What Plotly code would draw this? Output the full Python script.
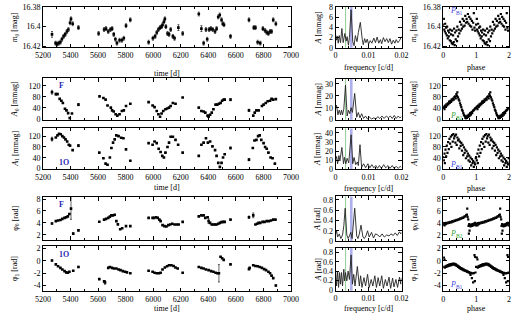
import plotly.graph_objects as go

# ---------------- data ----------------
t_m0 = [5266,5292,5303,5315,5327,5338,5350,5362,5374,5385,5397,5404,5416,5458,
        5604,5644,5658,5674,5690,5702,5714,5726,5737,5756,5773,5787,5803,5834,
        5967,5998,6014,6026,6038,6050,6061,6068,6078,6085,6092,6104,6115,6127,6143,6155,6183,6214,
        6331,6350,6366,6383,6392,6406,6418,6432,6449,6460,6472,6483,6496,6505,6514,6561,
        6695,6730,6742,6758,6777,6796,6812,6824,6836,6848,6859,6871,6890]
m0 = [16.408,16.417,16.418,16.417,16.416,16.413,16.410,16.408,16.405,16.403,16.396,16.392,16.397,16.401,
      16.407,16.403,16.402,16.405,16.403,16.402,16.408,16.413,16.417,16.414,16.414,16.412,16.399,16.393,
      16.416,16.412,16.410,16.406,16.403,16.401,16.400,16.398,16.395,16.392,16.400,16.407,16.408,16.403,16.410,16.412,16.401,16.407,
      16.387,16.402,16.417,16.403,16.413,16.403,16.402,16.403,16.405,16.402,16.390,16.388,16.393,16.397,16.398,16.410,
      16.393,16.401,16.401,16.416,16.417,16.402,16.404,16.406,16.407,16.405,16.405,16.393,16.397]
m0_err = [0.003,0.002,0.002,0.002,0.002,0.002,0.002,0.002,0.002,0.002,0.002,0.002,0.002,0.002,
          0.002,0.002,0.002,0.002,0.002,0.002,0.002,0.002,0.002,0.002,0.002,0.002,0.002,0.002,
          0.002,0.002,0.002,0.002,0.002,0.002,0.002,0.002,0.002,0.002,0.002,0.002,0.002,0.002,0.002,0.002,0.003,0.002,
          0.002,0.003,0.002,0.002,0.002,0.002,0.002,0.002,0.002,0.002,0.002,0.002,0.002,0.002,0.002,0.002,
          0.002,0.002,0.002,0.002,0.002,0.002,0.002,0.002,0.002,0.002,0.002,0.002,0.002]

t_A0 = [5266,5294,5306,5322,5334,5345,5360,5371,5383,5395,5411,5458,
        5611,5639,5655,5669,5693,5702,5714,5728,5740,5756,5773,5787,5803,5834,
        5967,5996,6010,6026,6038,6050,6061,6073,6089,6101,6115,6127,6143,6162,6214,
        6331,6350,6366,6378,6395,6402,6413,6425,6437,6453,6465,6477,6489,6500,6512,6519,6561,
        6695,6726,6737,6749,6765,6789,6801,6817,6831,6848,6859,6871,6890]
A0 = [97,90,90,73,66,58,37,31,21,3,20,52,
      82,76,70,49,41,31,27,17,12,17,29,31,47,55,
      61,49,43,29,17,8,20,29,35,38,41,47,58,55,78,
      41,29,27,23,12,8,15,23,35,52,52,55,58,66,70,70,70,
      31,12,23,31,31,47,52,58,64,66,73,70,72]
A0_err = [7,3,0,0,0,0,0,0,0,0,0,4,
          0,0,0,0,0,0,0,0,0,0,0,0,0,0,
          0,0,0,0,0,0,0,0,0,0,0,0,0,0,0,
          0,0,0,0,0,0,0,0,0,0,0,0,0,0,0,0,4,
          4,0,0,0,0,0,0,0,0,0,0,0,0]

t_A1 = [5266,5294,5306,5317,5329,5341,5353,5364,5376,5388,5397,5416,5458,
        5609,5639,5655,5669,5686,5697,5709,5721,5733,5749,5768,5784,5803,5834,
        5967,5996,6010,6026,6040,6054,6066,6078,6089,6104,6115,6127,6143,6162,6181,6214,
        6331,6350,6366,6383,6397,6413,6430,6449,6460,6472,6484,6496,6507,6519,6561,
        6695,6723,6735,6749,6761,6773,6784,6801,6812,6824,6836,6852,6866,6883]
A1 = [109,115,123,129,127,120,115,108,100,88,85,68,85,
      59,38,18,14,41,76,96,108,123,120,114,112,71,29,
      94,88,100,94,73,61,47,41,59,80,96,118,118,106,88,59,
      47,88,96,112,96,100,82,68,47,21,6,21,41,53,76,
      33,76,104,106,120,123,106,94,80,73,59,41,38,18]
A1_err = [7,0,0,0,0,0,0,0,0,0,0,0,4,
          0,0,0,0,0,0,0,0,0,0,0,0,0,0,
          0,0,0,0,0,0,0,0,0,0,0,0,0,0,0,0,
          0,0,0,0,0,0,0,0,0,0,0,0,0,0,4,
          4,0,0,0,0,0,0,0,0,0,0,0,0,0]

t_p0 = [5266,5294,5310,5327,5341,5357,5369,5381,5392,5404,5420,5458,
        5609,5644,5658,5674,5686,5697,5709,5721,5733,5744,5761,5775,5803,5834,
        5967,5996,6007,6021,6033,6045,6054,6068,6082,6096,6110,6124,6138,6155,6171,6185,6214,
        6331,6350,6366,6378,6395,6402,6413,6425,6437,6449,6460,6472,6484,6496,6507,6519,6561,
        6695,6726,6742,6754,6765,6777,6794,6808,6824,6840,6855,6871,6887]
phi0 = [3.9,4.3,4.4,4.5,4.67,4.84,4.95,5.1,5.5,6.4,2.2,2.76,
        4.2,4.55,4.67,4.84,5.05,5.27,5.27,5.38,4.3,3.75,2.93,3.1,3.47,3.47,
        4.84,4.84,4.84,4.95,4.84,4.56,4.3,3.63,3.47,3.4,3.63,3.74,3.85,3.74,3.74,3.74,4.18,
        5.1,5.27,5.27,4.84,4.95,4.3,4.0,3.74,3.74,3.74,3.74,3.85,4.0,4.13,4.18,4.18,4.56,
        4.95,5.27,3.74,3.85,4.0,4.0,4.18,4.18,4.3,4.3,4.4,4.56,4.56]
phi0_err = [0.1,0,0,0,0,0,0,0,0,1.8,0.15,0.1,
            0,0,0,0,0,0,0,0,0,0,0,0,0,0,
            0,0,0,0,0,0,0,0,0,0,0,0,0,0,0,0,0,
            0,0,0,0,0,0.4,0,0,0,0,0,0,0,0,0,0,0,
            0.2,0.4,0,0,0,0,0,0,0,0,0,0,0]

t_p1 = [5266,5294,5310,5327,5341,5357,5369,5381,5392,5420,5458,
        5609,5644,5651,5674,5686,5702,5716,5733,5749,5763,5780,5796,5810,5834,
        5967,5996,6010,6026,6043,6054,6068,6085,6101,6115,6132,6148,6162,6178,6214,
        6331,6350,6366,6383,6402,6420,6437,6453,6467,6477,6489,6500,6512,6561,
        6695,6700,6726,6742,6758,6773,6789,6805,6819,6836,6848,6859,6871,6890]
phi1 = [0.03,-0.59,-0.9,-1.16,-1.41,-1.67,-1.88,-1.93,-1.78,-1.62,-1.0,
        -2.97,-3.33,-3.5,-1.16,-1.0,-1.16,-1.26,-1.26,-1.41,-1.52,-1.67,-1.78,-1.88,-2.03,
        -1.62,-1.78,-1.93,-2.03,-2.03,-1.93,-1.41,-1.1,-0.9,-0.74,-0.74,-0.84,-1.1,-1.26,-1.93,
        -1.0,-1.16,-1.26,-1.41,-1.52,-1.67,-1.78,-1.93,-2.03,-2.03,0.65,0.4,0.14,-0.59,
        -1.36,-1.15,-0.74,-0.84,-0.9,-1.0,-1.16,-1.36,-1.52,-1.78,-2.03,-2.4,-2.81,-4.0]
phi1_err = [0.1,0,0,0,0,0,0,0,0,0,0.1,
            0,0,0.3,0,0,0,0,0,0,0,0,0,0,0,
            0,0,0,0,0,0,0,0,0,0,0,0,0,0,0,
            0,0,0,0,0,0,0,0,0,1.4,0,0,0,0,
            0,0,0,0,0,0,0,0,0,0,0,0,0,0.1]

# amplitude spectra (frequency in c/d)
f_s1 = [0,0.0003,0.0005,0.0008,0.0011,0.0015,0.0019,0.0023,0.0028,0.0032,0.0035,0.0039,0.0042,0.0047,
        0.0052,0.0056,0.006,0.0065,0.0069,0.0075,0.0081,0.0084,0.0088,0.0092,0.0096,0.01,0.0105,0.011,
        0.0116,0.0121,0.0126,0.0131,0.0136,0.0140,0.0145,0.0150,0.0155,0.0160,0.0165,0.0170,0.0175,
        0.0180,0.0184,0.0189,0.0194,0.02]
s1 = [2.6,1.5,2.3,0.9,2.4,1.0,3.8,1.0,2.8,1.3,2.2,0.5,2.0,7.5,
      1.2,0.4,2.4,1.2,3.0,5.0,1.6,0.6,1.8,1.0,1.7,0.7,1.4,0.9,
      1.9,1.0,2.1,0.9,1.6,0.8,2.0,1.2,1.8,1.0,1.8,0.7,1.5,
      0.9,1.6,1.0,1.4,2.2]

f_s2 = [0,0.0003,0.0007,0.0011,0.0015,0.0018,0.0021,0.0025,0.003,0.0035,0.0039,0.0043,0.0047,0.0051,
        0.0058,0.0064,0.0069,0.0074,0.0079,0.0085,0.0091,0.0097,0.0103,0.0109,0.0116,0.0122,0.0128,
        0.0134,0.0141,0.0147,0.0154,0.016,0.0166,0.0172,0.0178,0.0184,0.019,0.0195,0.02]
s2 = [10,12,4,8,4,8,4,9,29,3,8,5,10,6,
      22,2,6,1.5,5,1,3,0.5,2,0.5,1.5,0.5,2.5,
      1,3,1,3,1.5,3,1,3.5,1,3,1.5,2.5]

f_s3 = [0,0.0003,0.0006,0.001,0.0013,0.0019,0.0024,0.0027,0.0031,0.0035,0.004,0.0047,0.0052,0.0056,
        0.0061,0.0066,0.0069,0.0074,0.0079,0.0085,0.0091,0.0098,0.0104,0.011,0.0116,0.0122,0.0127,
        0.0133,0.0139,0.0146,0.0152,0.0159,0.0165,0.0172,0.0177,0.0184,0.019,0.0196,0.02]
s3 = [10,14,6,15,9,24,6,13,6,12,7,38,6,13,
      5,8,4,27,2,6,1.5,6,1.5,5,1.5,4,1,
      4,1,5,1.5,4,1,4,1,3,1,3,2]

f_s4 = [0,0.0003,0.0006,0.0011,0.0016,0.0021,0.0025,0.0029,0.0034,0.0038,0.0042,0.0046,0.005,0.0053,
        0.0058,0.0064,0.0068,0.0072,0.0077,0.0083,0.0087,0.0092,0.0097,0.0102,0.0109,0.0115,0.0121,
        0.0128,0.0134,0.0141,0.0148,0.0155,0.0162,0.0168,0.0175,0.0181,0.0187,0.0194,0.0198,0.02]
s4 = [0.14,0.2,0.08,0.14,0.05,0.12,0.3,0.64,0.12,0.05,0.1,0.17,0.05,0.23,
      0.64,0.1,0.05,0.14,0.31,0.08,0.05,0.1,0.2,0.08,0.17,0.06,0.14,
      0.12,0.08,0.14,0.08,0.12,0.1,0.14,0.11,0.16,0.11,0.18,0.14,0.17]

f_s5 = [0,0.0003,0.0006,0.0009,0.0012,0.0015,0.0018,0.0021,0.0025,0.0027,0.003,0.0034,0.0038,0.0042,
        0.0047,0.0051,0.0055,0.0059,0.0066,0.0072,0.0076,0.008,0.0086,0.0091,0.0097,0.0102,0.0108,
        0.0113,0.0119,0.0124,0.0129,0.0134,0.014,0.0145,0.0151,0.0156,0.0162,0.0167,0.0173,0.0177,
        0.0183,0.0188,0.0194,0.0198,0.02]
s5 = [0.4,0.08,0.4,0.05,0.37,0.12,0.37,0.08,0.44,0.19,0.37,0.19,0.4,0.22,
      0.75,0.12,0.33,0.08,0.5,0.08,0.3,0.05,0.26,0.08,0.33,0.05,0.22,
      0.08,0.3,0.05,0.26,0.08,0.3,0.03,0.22,0.08,0.27,0.03,0.25,0.06,
      0.22,0.05,0.27,0.12,0.25]

f_B2 = 0.00303   # green marker
f_B1 = 0.00476   # blue marker

# phase-folded data (one cycle, shown twice)
ph_m0 = [0.00,0.02,0.03,0.05,0.06,0.08,0.09,0.11,0.12,0.14,0.15,0.17,0.18,0.20,0.21,0.23,0.24,0.26,0.27,0.29,
         0.30,0.32,0.33,0.35,0.36,0.38,0.40,0.42,0.43,0.45,0.47,0.49,0.51,0.53,0.55,0.57,0.59,0.61,0.63,0.65,
         0.67,0.69,0.71,0.73,0.75,0.77,0.79,0.81,0.83,0.85,0.87,0.89,0.91,0.93,0.95,0.97]
pm0 = [16.398,16.392,16.403,16.405,16.397,16.407,16.401,16.409,16.400,16.412,16.404,16.410,16.406,16.414,16.403,16.415,16.408,16.417,16.404,16.418,
       16.409,16.416,16.402,16.419,16.406,16.413,16.404,16.415,16.400,16.410,16.403,16.407,16.395,16.404,16.398,16.402,16.392,16.400,16.394,16.399,
       16.389,16.396,16.392,16.395,16.387,16.397,16.390,16.399,16.392,16.400,16.394,16.403,16.396,16.386,16.401,16.404]

ph_A0 = [0.00,0.02,0.04,0.06,0.08,0.10,0.12,0.14,0.16,0.18,0.20,0.22,0.24,0.26,0.28,0.30,0.32,0.34,0.36,0.38,
         0.40,0.42,0.43,0.45,0.47,0.49,0.51,0.53,0.55,0.57,0.59,0.61,0.63,0.65,0.67,0.69,0.70,0.72,0.74,0.76,
         0.78,0.80,0.82,0.84,0.86,0.88,0.90,0.92,0.94,0.96,0.98]
pA0 = [40,45,36,48,44,53,49,57,54,63,58,66,62,71,67,74,70,79,82,75,
       90,84,97,78,71,66,57,50,43,34,29,21,15,11,5,2,9,4,12,7,
       16,11,21,16,25,21,29,31,33,37,39]

ph_A1 = [0.00,0.02,0.04,0.05,0.07,0.09,0.11,0.13,0.15,0.17,0.19,0.21,0.23,0.25,0.27,0.29,0.31,0.33,0.35,0.37,
         0.39,0.41,0.43,0.45,0.47,0.49,0.51,0.53,0.55,0.57,0.59,0.61,0.63,0.65,0.67,0.69,0.71,0.73,0.75,0.77,
         0.79,0.81,0.83,0.85,0.87,0.89,0.91,0.93,0.95,0.97,0.99]
pA1 = [42,30,55,20,70,45,85,58,98,72,110,92,118,80,124,100,128,112,120,96,
       126,88,115,104,108,75,100,84,95,66,88,50,78,58,70,38,64,45,55,30,
       48,25,40,12,35,20,28,6,22,15,38]

ph_p0 = [0.00,0.02,0.04,0.06,0.08,0.10,0.13,0.16,0.19,0.22,0.25,0.28,0.31,0.34,0.37,0.40,0.43,0.46,0.49,0.52,
         0.55,0.58,0.61,0.64,0.67,0.70,0.72,0.73,0.74,0.76,0.77,0.78,0.79,0.80,0.81,0.83,0.85,0.87,0.89,0.91,
         0.93,0.95,0.97,0.99]
pp0 = [3.7,3.9,3.6,3.95,3.8,4.0,3.9,4.1,4.0,4.2,4.1,4.3,4.2,4.4,4.35,4.5,4.45,4.6,4.6,4.75,
       4.7,4.9,4.85,5.05,5.1,5.3,5.4,6.4,5.0,4.6,3.5,2.2,3.8,2.7,3.6,3.4,3.7,3.5,3.8,3.6,
       3.9,3.7,4.0,3.6]

ph_p1 = [0.00,0.02,0.04,0.05,0.07,0.09,0.11,0.13,0.15,0.17,0.19,0.21,0.23,0.25,0.27,0.29,0.31,0.33,0.35,0.37,
         0.39,0.41,0.43,0.45,0.47,0.49,0.51,0.53,0.55,0.57,0.59,0.61,0.63,0.65,0.67,0.69,0.71,0.73,0.75,0.77,
         0.79,0.81,0.83,0.85,0.87,0.89,0.91,0.93,0.95,0.96,0.97,0.98]
pp1 = [-1.0,0.5,0.2,-1.1,-0.9,-1.0,-0.8,-0.9,-0.7,-0.85,-0.6,-0.75,-0.55,-0.7,-0.5,-0.65,-0.45,-0.6,-0.5,-0.7,
       -0.6,-0.85,-0.75,-1.0,-0.9,-1.15,-1.05,-1.3,-1.2,-1.4,-1.3,-1.5,-1.45,-1.6,-1.55,-1.7,-1.65,-1.8,-1.75,-1.9,
       -1.85,-2.0,-2.3,-1.95,-2.8,-2.05,-3.5,-2.0,0.9,-3.3,0.6,-1.9]

# ---------------- layout helpers ----------------
W, H = 520, 318
FONT = "Liberation Serif"
cols = [(36, 292), (338, 406), (449, 517)]
rows_lr = [(3, 44.5), (76.5, 119), (127.5, 170), (199, 242.5), (249.5, 295.5)]
rows_mid = [(3, 45), (77, 119), (128, 170), (198, 244), (251, 295)]

fig = go.Figure()
layout = dict(width=W, height=H, margin=dict(l=0, r=0, t=0, b=0),
              paper_bgcolor="white", plot_bgcolor="white", showlegend=False,
              font=dict(family=FONT, size=8, color="black"))
annotations = []
shapes = []


def ax_name(kind, n):
    return f"{kind}axis{n}" if n > 1 else f"{kind}axis"


def ref(kind, n):
    return f"{kind}{n}" if n > 1 else kind


def axis_common():
    return dict(showline=True, linecolor="black", linewidth=0.8, mirror="allticks",
                ticks="inside", ticklen=3.5, tickwidth=0.8, tickcolor="black",
                showgrid=False, zeroline=False,
                tickfont=dict(family=FONT, size=8, color="black"))


def add_axes(n, col, row, xr, yr, xtickvals, xticktext, showx, ytickvals, yticktext, mid=False, xminor=None):
    x0, x1 = cols[col]
    rr = rows_mid if mid else rows_lr
    top, bot = rr[row]
    xa = axis_common()
    xa.update(domain=[x0 / W, x1 / W], range=xr, tickvals=xtickvals, ticktext=xticktext,
              showticklabels=showx, anchor=ref("y", n), ticklabelstandoff=0)
    if xminor:
        xa["minor"] = dict(ticks="inside", ticklen=2, tickcolor="black", dtick=xminor)
    ya = axis_common()
    ya.update(domain=[1 - bot / H, 1 - top / H], range=yr, tickvals=ytickvals, ticktext=yticktext,
              anchor=ref("x", n))
    layout[ax_name("x", n)] = xa
    layout[ax_name("y", n)] = ya


def ytitle(text, xpx, row, mid=False):
    rr = rows_mid if mid else rows_lr
    top, bot = rr[row]
    annotations.append(dict(text=text, x=xpx / W, y=1 - (top + bot) / 2 / H, xref="paper", yref="paper",
                            showarrow=False, textangle=-90, xanchor="center", yanchor="middle",
                            font=dict(family=FONT, size=8, color="black")))


def xtitle(text, col, ypx):
    x0, x1 = cols[col]
    annotations.append(dict(text=text, x=(x0 + x1) / 2 / W, y=1 - ypx / H, xref="paper", yref="paper",
                            showarrow=False, xanchor="center", yanchor="middle",
                            font=dict(family=FONT, size=8, color="black")))


def label(n, x, y, text, color, size=8, bold=False):
    txt = f"<b>{text}</b>" if bold else text
    annotations.append(dict(text=txt, x=x, y=y, xref=ref("x", n), yref=ref("y", n),
                            showarrow=False, xanchor="left", yanchor="middle",
                            font=dict(family=FONT, size=size, color=color)))


def scatter(n, x, y, err=None, size=2.6):
    kw = {}
    if err is not None:
        kw["error_y"] = dict(type="data", array=err, visible=True, color="black", thickness=0.6, width=1)
    fig.add_trace(go.Scatter(x=x, y=y, mode="markers",
                             marker=dict(symbol="square", size=size, color="black", line=dict(width=0)),
                             xaxis=ref("x", n), yaxis=ref("y", n), hoverinfo="skip", **kw))


def line(n, x, y):
    fig.add_trace(go.Scatter(x=x, y=y, mode="lines", line=dict(color="#222", width=0.9),
                             xaxis=ref("x", n), yaxis=ref("y", n), hoverinfo="skip"))


def vlines(n):
    for f, c, w in [(f_B2, "rgba(120,190,120,0.8)", 1.0), (f_B1, "rgba(110,110,220,0.55)", 2.6)]:
        shapes.append(dict(type="line", xref=ref("x", n), yref=f"{ref('y', n)} domain", x0=f, x1=f, y0=0, y1=1,
                           line=dict(color=c, width=w), layer="below"))


def twice(ph, v):
    return ph + [p + 1 for p in ph], v + v


time_ticks = [5200, 5400, 5600, 5800, 6000, 6200, 6400, 6600, 6800, 7000]
time_text = [str(t) for t in time_ticks]
freq_ticks = [0, 0.01, 0.02]
freq_text = ["0", "0.01", "0.02"]
ph_ticks = [0, 1, 2]
ph_text = ["0", "1", "2"]

row_ranges = [[16.4212, 16.3797], [-2.5, 147.5], [-2.5, 150.6], [1.2, 8.28], [-4.9, 2.3]]
row_yticks = [([16.38, 16.40, 16.42], ["16.38", "16.4", "16.42"]),
              ([0, 40, 80, 120], ["0", "40", "80", "120"]),
              ([0, 40, 80, 120], ["0", "40", "80", "120"]),
              ([2, 4, 6, 8], ["2", "4", "6", "8"]),
              ([-4, -2, 0, 2], ["-4", "-2", "0", "2"])]
mid_ranges = [[0, 8.05], [0, 34.2], [0, 45], [0, 0.87], [-0.02, 0.9]]
mid_yticks = [([0, 2, 4, 6, 8], ["0", "2", "4", "6", "8"]),
              ([0, 10, 20, 30], ["0", "10", "20", "30"]),
              ([0, 10, 20, 30, 40], ["0", "10", "20", "30", "40"]),
              ([0, 0.2, 0.4, 0.6, 0.8], ["0", "0.2", "0.4", "0.6", "0.8"]),
              ([0, 0.2, 0.4, 0.6, 0.8], ["0", "0.2", "0.4", "0.6", "0.8"])]
showlab = [True, False, True, False, True]

for r in range(5):
    add_axes(1 + r, 0, r, [5200, 7000], row_ranges[r], time_ticks, time_text, showlab[r],
             *row_yticks[r], xminor=100)
    add_axes(6 + r, 1, r, [0, 0.02], mid_ranges[r], freq_ticks, freq_text, showlab[r],
             *mid_yticks[r], mid=True, xminor=0.002)
    add_axes(11 + r, 2, r, [0, 2], row_ranges[r], ph_ticks, ph_text, showlab[r],
             *row_yticks[r], xminor=0.2)

# time series
scatter(1, t_m0, m0, m0_err)
scatter(2, t_A0, A0, A0_err)
scatter(3, t_A1, A1, A1_err)
scatter(4, t_p0, phi0, phi0_err)
scatter(5, t_p1, phi1, phi1_err)
# spectra
for n, f, s in [(6, f_s1, s1), (7, f_s2, s2), (8, f_s3, s3), (9, f_s4, s4), (10, f_s5, s5)]:
    vlines(n)
    line(n, f, s)
# phase plots
for n, ph, v in [(11, ph_m0, pm0), (12, ph_A0, pA0), (13, ph_A1, pA1), (14, ph_p0, pp0), (15, ph_p1, pp1)]:
    x2, y2 = twice(ph, v)
    scatter(n, x2, y2, size=2.2)

# titles
ylab_left = ["<i>m</i><sub>0</sub> [mag]", "<i>A</i><sub>0</sub> [mmag]", "<i>A</i><sub>1</sub> [mmag]",
             "φ<sub>0</sub> [rad]", "φ<sub>1</sub> [rad]"]
ylab_mid = ["<i>A</i> [mmag]", "<i>A</i> [mmag]", "<i>A</i> [mmag]", "<i>A</i> [rad]", "<i>A</i> [rad]"]
for r in range(5):
    ytitle(ylab_left[r], 7.5, r)
    ytitle(ylab_mid[r], 320, r, mid=True)
    ytitle(ylab_left[r], 419, r)
for col, txt in [(0, "time [d]"), (1, "frequency [c/d]"), (2, "phase")]:
    yl = [72, 189, 313] if col == 0 else [65, 189.5, 313.5]
    for ypx in yl:
        xtitle(txt, col, ypx)

BLUE = "#2a2ab4"
PB1C = "#4848e0"
PB2C = "#3aa83a"
label(2, 5305, 122, "F", BLUE, bold=True)
label(3, 5305, 24, "1O", BLUE, bold=True)
label(4, 5305, 7.1, "F", BLUE, bold=True)
label(5, 5305, 1.0, "1O", BLUE, bold=True)
label(11, 0.15, 16.3835, "<i>P</i><sub>B1</sub>", PB1C)
label(12, 0.15, 12, "<i>P</i><sub>B2</sub>", PB2C)
label(13, 0.15, 12, "<i>P</i><sub>B1</sub>", PB1C)
label(14, 0.15, 2.2, "<i>P</i><sub>B2</sub>", PB2C)
label(15, 0.15, -3.9, "<i>P</i><sub>B1</sub>", PB1C)

layout["annotations"] = annotations
layout["shapes"] = shapes
fig.update_layout(**layout)
fig.write_html("out.html", config={"displayModeBar": False},
               post_script="document.body.style.margin='0';document.body.style.overflow='hidden';")
